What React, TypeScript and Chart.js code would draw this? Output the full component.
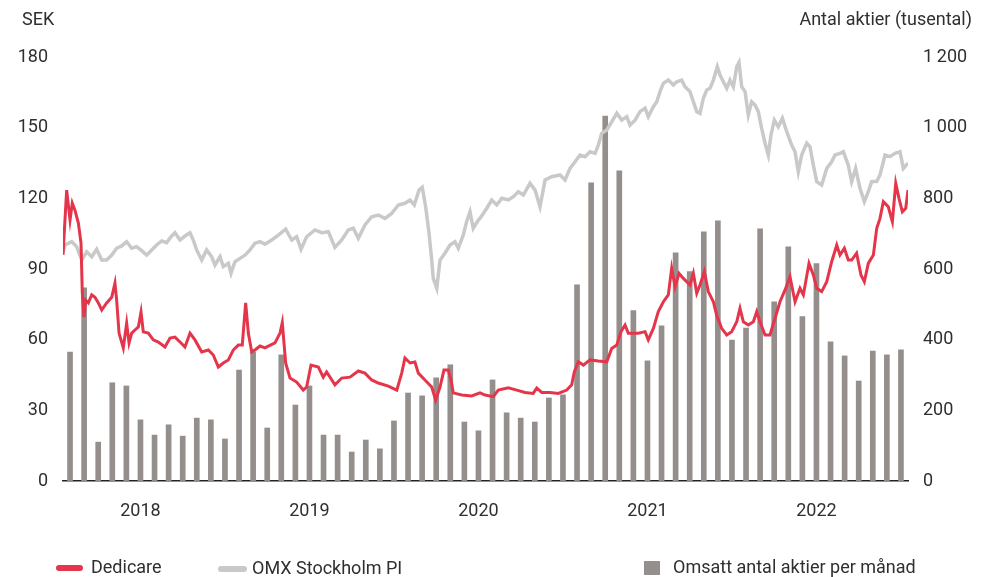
import React, { useEffect, useRef } from "react";
import { Chart, registerables } from "chart.js";

Chart.register(...registerables);

// Months since 1 Jan 2018 (0..60)
const YEARS = ["2018", "2019", "2020", "2021", "2022"];
const YEAR_TICK_MONTHS = [5.5, 17.5, 29.5, 41.5, 53.5];

// Monthly traded shares (thousands), Jan 2018 .. Dec 2022
const VOLUME = [
  365, 547, 110, 278, 269, 173, 130, 159, 127, 178, 173, 119,
  314, 365, 150, 357, 215, 269, 130, 130, 82, 116, 91, 170,
  249, 241, 292, 329, 167, 142, 286, 193, 178, 167, 235, 244,
  555, 844, 1033, 878, 482, 340, 439, 646, 593, 705, 736, 399,
  433, 714, 507, 663, 465, 615, 394, 354, 283, 368, 357, 371,
];

const DEDICARE_T = [
  0, 0.26, 0.5, 0.66, 0.85, 1.09, 1.28, 1.37, 1.49, 1.61, 1.8, 2.04, 2.27, 2.51, 2.75, 3.1, 3.46, 3.69, 3.81, 3.98,
  4.28, 4.52, 4.69, 4.88, 5.11, 5.35, 5.54, 5.7, 6.06, 6.41, 6.77, 7.24, 7.6, 7.95, 8.31, 8.66, 9.02, 9.37, 9.85, 10.32,
  10.67, 11.03, 11.38, 11.74, 12.09, 12.45, 12.73, 12.97, 13.16, 13.4, 13.63, 13.99, 14.34, 15.05, 15.41, 15.57, 15.81, 16.12, 16.59, 17.06,
  17.3, 17.61, 18.13, 18.48, 18.72, 19.31, 19.79, 20.38, 20.97, 21.44, 21.92, 22.39, 23.1, 23.7, 24.05, 24.28, 24.64, 24.99, 25.23, 25.7,
  26.18, 26.46, 26.77, 27.05, 27.36, 27.55, 27.71, 28.31, 29.02, 29.61, 29.97, 30.55, 30.91, 31.62, 32.22, 32.81, 33.39, 33.64, 33.99, 34.58,
  35.17, 35.77, 36.12, 36.31, 36.59, 36.95, 37.42, 38.01, 38.61, 38.96, 39.32, 39.62, 39.91, 40.14, 40.85, 41.33, 41.56, 41.92, 42.27, 42.63,
  42.98, 43.22, 43.46, 43.74, 44.05, 44.52, 44.76, 45.0, 45.23, 45.54, 45.82, 46.18, 46.41, 46.77, 47.13, 47.48, 47.84, 48.07, 48.31, 48.66,
  49.02, 49.26, 49.49, 49.85, 50.2, 50.56, 50.91, 51.27, 51.62, 51.98, 52.33, 52.57, 52.97, 53.28, 53.52, 53.87, 54.23, 54.58, 54.94, 55.17,
  55.48, 55.76, 56.0, 56.35, 56.66, 56.9, 57.18, 57.54, 57.78, 58.01, 58.25, 58.6, 58.89, 59.13, 59.36, 59.6, 59.84, 60,
];
const DEDICARE_V = [
  96, 123.5, 110.8, 118, 115, 109.5, 101, 79.8, 69.6, 76.8, 75.6, 79, 78, 75.6, 72.6, 75.6, 78, 84, 76.8, 62.8,
  56.5, 67, 58.6, 62.8, 64.1, 65.4, 71.7, 63.3, 62.8, 59.9, 59, 56.9, 60.7, 61.1, 59, 56.9, 62.8, 59.9, 54.8, 55.6,
  53.5, 48.4, 50.1, 51.4, 55.6, 57.7, 57.7, 75.6, 62.8, 54.8, 55.6, 57.3, 56.5, 58.6, 62.8, 67.2, 50.1, 43.7, 42, 38.6,
  39.9, 49.2, 48.4, 44.1, 46.3, 40.8, 43.7, 44.1, 46.7, 45.8, 42.9, 41.6, 40.3, 38.6, 45.8, 52.2, 50.1, 50.5, 45.8, 42.9,
  39.9, 34.4, 39.9, 47.1, 47.1, 42.9, 37.4, 36.5, 36.1, 37.4, 36.5, 35.8, 38.6, 39.6, 38.6, 37.6, 37.2, 39.5, 37.6, 37.6,
  37.2, 38.6, 40.8, 46.4, 50.6, 49.2, 51.4, 50.9, 50.6, 56.3, 57.7, 63.4, 66.2, 62.7, 62.7, 63.4, 59.9, 64.8, 71.9, 76.1,
  79, 90.3, 82.5, 88.2, 86, 83.2, 88.2, 79.7, 83.2, 88.9, 80.4, 76.1, 70.5, 64.8, 62, 63.4, 67.6, 73.3, 67.6, 66.2,
  67.6, 71.9, 67.6, 62, 62, 69.1, 76.1, 81.1, 86.7, 76.1, 81.8, 79, 92.4, 87.5, 81.8, 80.4, 84.6, 93.1, 100.2, 95.9,
  98.8, 93.8, 93.8, 96.7, 87.5, 84.6, 92.4, 95.9, 107.3, 111.5, 118.6, 116.4, 110.1, 126.4, 120, 114.3, 115.8, 123.5,
];

const OMX_T = [
  0, 0.14, 0.62, 0.97, 1.33, 1.68, 2.04, 2.39, 2.75, 3.1, 3.46, 3.81, 4.17, 4.52, 4.88, 5.23, 5.59, 5.94, 6.3, 6.65,
  7.01, 7.36, 7.72, 7.95, 8.31, 8.66, 9.02, 9.25, 9.49, 9.85, 10.2, 10.56, 10.79, 11.15, 11.38, 11.74, 11.93, 12.21, 12.57, 12.92,
  13.28, 13.63, 13.99, 14.34, 14.82, 15.29, 15.81, 16.24, 16.59, 16.9, 17.3, 17.89, 18.37, 18.84, 19.31, 19.79, 20.26, 20.61, 20.97, 21.44,
  21.92, 22.39, 22.86, 23.34, 23.81, 24.28, 24.64, 24.94, 25.28, 25.51, 25.75, 25.99, 26.18, 26.29, 26.54, 26.77, 27.12, 27.48, 27.83, 28.07,
  28.42, 28.66, 28.9, 29.13, 29.49, 29.61, 30.09, 30.44, 30.8, 31.15, 31.62, 31.98, 32.33, 32.69, 33.16, 33.52, 33.87, 34.23, 34.7, 35.29,
  35.65, 36.0, 36.36, 36.71, 37.07, 37.42, 37.78, 38.01, 38.25, 38.61, 38.96, 39.32, 39.67, 40.03, 40.26, 40.62, 40.97, 41.33, 41.56, 41.92,
  42.16, 42.39, 42.63, 42.98, 43.34, 43.58, 43.93, 44.17, 44.52, 44.76, 45.0, 45.23, 45.47, 45.71, 45.94, 46.18, 46.46, 46.65, 46.89, 47.13,
  47.36, 47.6, 47.84, 48.0, 48.19, 48.43, 48.66, 48.9, 49.14, 49.37, 49.61, 49.85, 50.08, 50.27, 50.51, 50.79, 51.08, 51.39, 51.74, 51.98,
  52.21, 52.45, 52.81, 53.04, 53.28, 53.52, 53.87, 54.23, 54.58, 54.82, 55.17, 55.41, 55.76, 56.0, 56.28, 56.59, 56.9, 57.18, 57.42, 57.78,
  58.01, 58.37, 58.72, 59.08, 59.43, 59.67, 60,
];
const OMX_V = [
  97, 100.2, 101.6, 99.5, 93.8, 97.3, 95.2, 98.4, 93.8, 93.8, 95.9, 98.8, 99.8, 101.6, 98.8, 99.5, 97.8, 95.9, 98.1, 100.2,
  101.9, 101.2, 104, 105.4, 102.3, 104, 105.4, 102.3, 98.1, 93.8, 98.1, 95.2, 91.7, 95.2, 91, 92.4, 88.2, 93.1, 94.5, 95.9,
  98.1, 100.9, 101.6, 100.5, 102.3, 104.4, 106.9, 102.3, 103.7, 98.4, 103.7, 106.6, 105.4, 105.8, 99.2, 102.3, 106.6, 107.3, 103, 108.7,
  112.2, 112.9, 111.5, 113.6, 117.2, 117.9, 119.3, 117.2, 123.5, 124.7, 116.4, 105.2, 93.8, 86, 81.8, 93.8, 96.7, 100.2, 101.6, 98.8,
  104.4, 110.1, 114.3, 107.3, 110.8, 111.5, 115.8, 119.3, 117.2, 120, 119.3, 120.7, 122.8, 121.4, 126.4, 123.5, 116.4, 127.8, 129.2, 129.9,
  127.8, 132.7, 135.5, 138.4, 137.7, 139.8, 139.1, 142.6, 147.6, 149, 152.5, 156.1, 153.2, 154.7, 151.1, 153.2, 156.8, 158.3, 154.7, 158.9,
  161, 165.3, 168.8, 170.2, 168.1, 169.5, 170.2, 167.4, 165.3, 161, 156.8, 156.1, 162.5, 166, 166.7, 170.2, 175.9, 172.4, 169.5, 166.7,
  170.2, 167.4, 175.9, 177.7, 167.4, 165.3, 155.4, 161, 159.6, 156.8, 149.7, 143.4, 138.4, 146.9, 153.2, 150.4, 154, 148.3, 142.6, 139.8,
  131.3, 138.4, 143.4, 141.9, 134.1, 127.1, 125.7, 132.7, 135.5, 138.4, 139.1, 139.8, 134.1, 127.1, 132.7, 124.3, 118.6, 122.8, 127.1, 127.1,
  129.9, 138.4, 137.7, 139.1, 139.8, 132.7, 134.9,
];

const RED = "#e5354b";
const GREY_LINE = "#c9c9c8";
const BAR = "#948f8c";
const TEXT = "#2f2f2f";
const FONT = "Roboto";
const FONT_SIZE = 18;

function fmtThousands(v: number): string {
  return v >= 1000 ? String(Math.floor(v / 1000)) + "\u2009" + String(v % 1000).padStart(3, "0") : String(v);
}

const overlayPlugin = {
  id: "overlay",
  afterDraw(chart: any) {
    const ctx = chart.ctx as CanvasRenderingContext2D;
    ctx.save();
    ctx.fillStyle = TEXT;
    ctx.font = `${FONT_SIZE}px ${FONT}`;
    ctx.textBaseline = "middle";
    ctx.textAlign = "left";
    ctx.fillText("SEK", 22, 20);
    ctx.textAlign = "right";
    ctx.fillText("Antal aktier (tusental)", 972, 20);

    // legend
    ctx.textAlign = "left";
    ctx.lineCap = "round";
    ctx.lineWidth = 6;
    ctx.strokeStyle = RED;
    ctx.beginPath();
    ctx.moveTo(59, 568);
    ctx.lineTo(80, 568);
    ctx.stroke();
    ctx.fillText("Dedicare", 91, 568);

    ctx.strokeStyle = GREY_LINE;
    ctx.beginPath();
    ctx.moveTo(221, 569);
    ctx.lineTo(244, 569);
    ctx.stroke();
    ctx.fillText("OMX Stockholm PI", 252, 569);

    ctx.fillStyle = BAR;
    ctx.fillRect(644, 561, 16, 14);
    ctx.fillStyle = TEXT;
    ctx.fillText("Omsatt antal aktier per m\u00e5nad", 673, 568);
    ctx.restore();
  },
};

export default function App() {
  const ref = useRef<HTMLCanvasElement | null>(null);

  useEffect(() => {
    if (!ref.current) return;
    const volData = VOLUME.map((v, i) => ({ x: i + 0.5, y: v }));
    const dedData = DEDICARE_T.map((t, i) => ({ x: t, y: DEDICARE_V[i] }));
    const omxData = OMX_T.map((t, i) => ({ x: t, y: OMX_V[i] }));

    const chart = new Chart(ref.current, {
      type: "bar",
      data: {
        datasets: [
          {
            type: "line",
            label: "Dedicare",
            data: dedData,
            borderColor: RED,
            borderWidth: 3,
            pointRadius: 0,
            tension: 0,
            yAxisID: "y",
            order: 0,
          } as any,
          {
            type: "line",
            label: "OMX Stockholm PI",
            data: omxData,
            borderColor: GREY_LINE,
            borderWidth: 3.5,
            pointRadius: 0,
            tension: 0,
            yAxisID: "y",
            order: 1,
          } as any,
          {
            type: "bar",
            label: "Omsatt antal aktier per månad",
            data: volData,
            backgroundColor: BAR,
            barThickness: 5,
            yAxisID: "y1",
            order: 2,
          } as any,
        ],
      },
      options: {
        animation: false,
        responsive: false,
        layout: { padding: { top: 57, left: 0, right: 0, bottom: 0 } },
        plugins: { legend: { display: false }, tooltip: { enabled: false } },
        scales: {
          x: {
            type: "linear",
            min: 0,
            max: 60,
            offset: false,
            grid: { display: false, drawTicks: false },
            border: { display: true, color: "#222", width: 1.5 },
            afterBuildTicks: (scale: any) => {
              scale.ticks = YEAR_TICK_MONTHS.map((v) => ({ value: v }));
            },
            afterFit: (scale: any) => {
              scale.height = 96;
            },
            ticks: {
              padding: 20,
              maxRotation: 0,
              autoSkip: false,
              color: TEXT,
              font: { family: FONT, size: FONT_SIZE },
              callback: (v: any) => YEARS[YEAR_TICK_MONTHS.indexOf(Number(v))] ?? "",
            },
          },
          y: {
            type: "linear",
            position: "left",
            min: 0,
            max: 180,
            grid: { display: false, drawTicks: false },
            border: { display: false },
            afterFit: (scale: any) => {
              scale.width = 63;
            },
            ticks: {
              stepSize: 30,
              padding: 15,
              color: TEXT,
              font: { family: FONT, size: FONT_SIZE },
            },
          },
          y1: {
            type: "linear",
            position: "right",
            min: 0,
            max: 1200,
            grid: { display: false, drawTicks: false },
            border: { display: false },
            afterFit: (scale: any) => {
              scale.width = 85;
            },
            ticks: {
              stepSize: 200,
              padding: 15,
              color: TEXT,
              font: { family: FONT, size: FONT_SIZE },
              callback: (v: any) => fmtThousands(Number(v)),
            },
          },
        },
      } as any,
      plugins: [overlayPlugin],
    });
    return () => chart.destroy();
  }, []);

  return (
    <div style={{ position: "fixed", left: 0, top: 0, width: 993, height: 577, background: "#fff" }}>
      <canvas ref={ref} width={993} height={577} style={{ width: 993, height: 577, display: "block" }} />
    </div>
  );
}
